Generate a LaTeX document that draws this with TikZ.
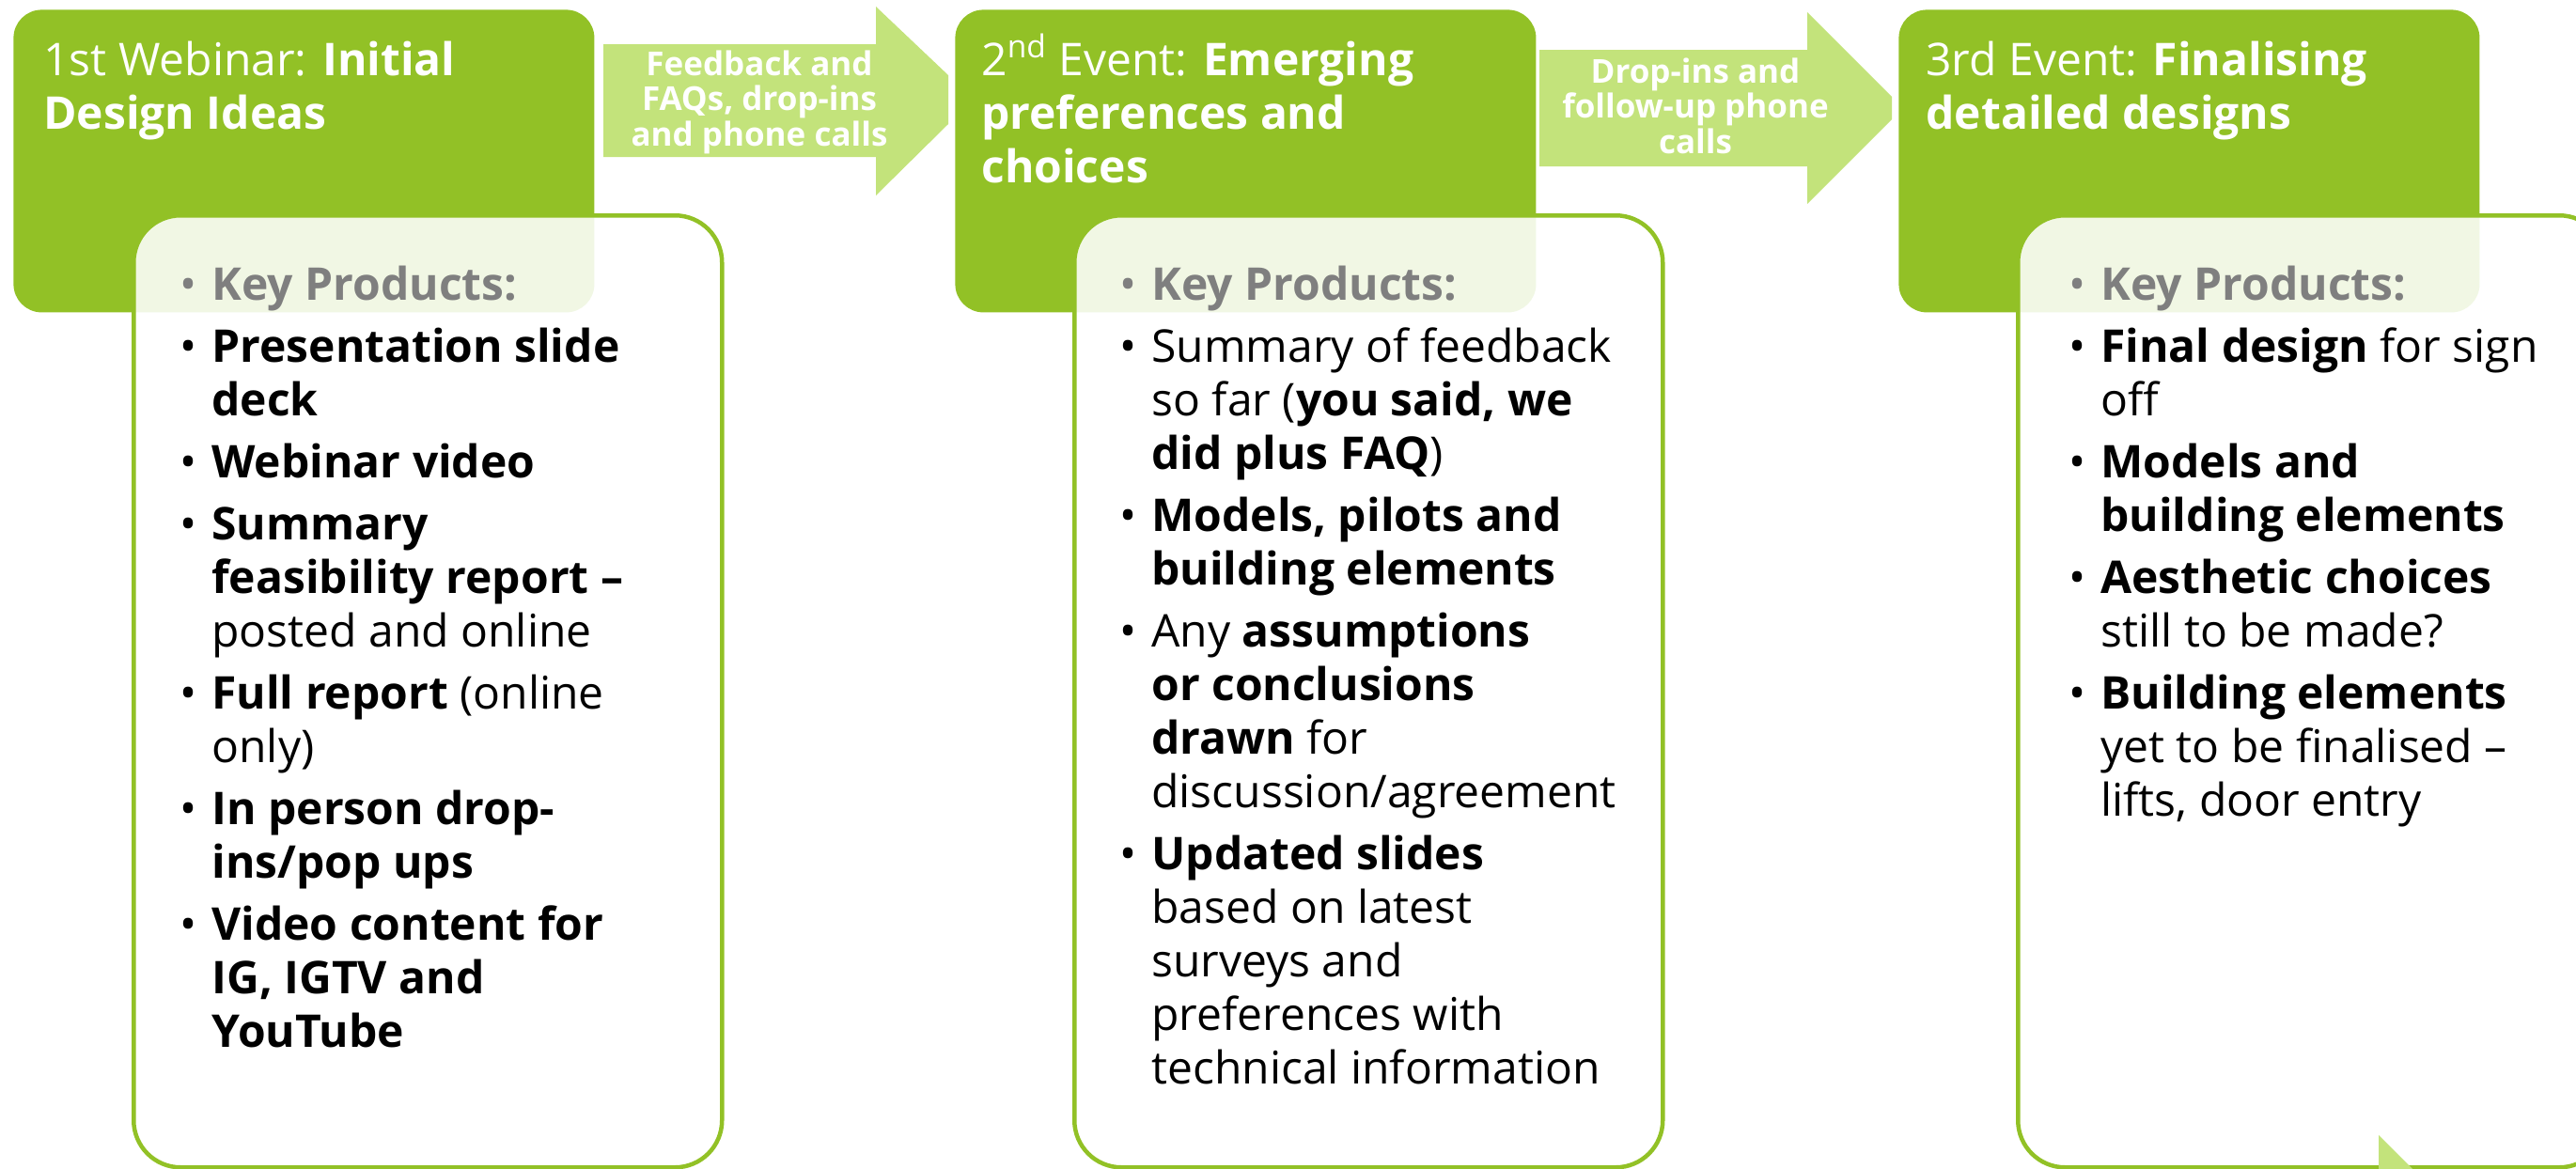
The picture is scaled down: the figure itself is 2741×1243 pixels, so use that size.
\documentclass[tikz,border=0pt]{standalone}
\usepackage{fontspec}
\setmainfont{Open Sans}
\definecolor{gdark}{RGB}{146,193,38}
\definecolor{glight}{RGB}{195,227,123}
\definecolor{kgray}{RGB}{127,127,127}

% one bullet item with a hanging indent
\newcommand\kpitem[1]{\par\noindent\hangindent=17pt\hangafter=1\makebox[17pt][l]{•}#1}
% grey heading line of each product list
\newcommand\kphead{\noindent{\color{kgray}\makebox[17pt][l]{•}\textbf{Key Products:}}}
% text blocks: the first baseline is the node's base
\newenvironment{kplist}{\begin{minipage}[t]{330pt}\fontsize{24pt}{28.5pt}\selectfont\setlength\parskip{4.5pt}}{\end{minipage}}
\newenvironment{ttl}{\begin{minipage}[t]{330pt}\fontsize{24pt}{28.5pt}\selectfont}{\end{minipage}}
\newenvironment{arrowtxt}{\begin{minipage}[t]{160pt}\centering\fontsize{17.5pt}{18.75pt}\selectfont\bfseries}{\end{minipage}}

\begin{document}
\begin{tikzpicture}[x=0.5pt,y=-0.5pt,
  greenbox/.style={fill=gdark, rounded corners=15pt, minimum width=309pt, minimum height=161pt, anchor=north west, inner sep=0pt},
  prodbox/.style={draw=gdark, line width=2.25pt, fill=white, fill opacity=0.88, rounded corners=25pt, minimum width=313pt, minimum height=506.5pt, anchor=north west, inner sep=0pt},
  txt/.style={anchor=base west, inner sep=0pt, text=black},
  ttltxt/.style={anchor=base west, inner sep=0pt, text=white},
  arrowlabel/.style={anchor=base, inner sep=0pt, text=white},
  flow/.style={fill=glight}]
\useasboundingbox (0,0) rectangle (2741,1243);
\clip (0,0) rectangle (2741,1243);

% event boxes
\node[greenbox] (g1) at (14,10) {};
\node[greenbox] (g2) at (1016,10) {};
\node[greenbox] (g3) at (2020,10) {};

% flow arrows between the events (flat tips)
\fill[flow] (642,47) -- (932,47) -- (932,7) -- (1009,80) -- (1009,132) -- (932,208) -- (932,167) -- (642,167) -- cycle;
\fill[flow] (1638,53) -- (1923,53) -- (1923,13) -- (2013,103) -- (2013,127) -- (1923,217) -- (1923,177) -- (1638,177) -- cycle;
\node[arrowlabel] (a1) at (808,80) {\begin{arrowtxt}Feedback and\\FAQs, drop-ins\\and phone calls\end{arrowtxt}};
\node[arrowlabel] (a2) at (1804,88) {\begin{arrowtxt}Drop-ins and\\follow-up phone\\calls\end{arrowtxt}};

% product boxes
\node[prodbox] (p1) at (140,227) {};
\node[prodbox] (p2) at (1141,227) {};
\node[prodbox] (p3) at (2145,227) {};

% tip of the next arrow entering at the lower edge
\fill[flow] (2531,1208) -- (2531,1250) -- (2573,1250) -- cycle;

% event titles
\node[ttltxt] (t1) at (46,80) {\begin{ttl}1st Webinar: \textbf{Initial\\Design Ideas}\end{ttl}};
\node[ttltxt] (t2) at (1044,80) {\begin{ttl}2\textsuperscript{nd} Event: \textbf{Emerging\\preferences and\\choices}\end{ttl}};
\node[ttltxt] (t3) at (2049,80) {\begin{ttl}3rd Event: \textbf{Finalising\\detailed designs}\end{ttl}};

% key products
\node[txt] (l1) at (191,319) {\begin{kplist}
\kphead
\kpitem{\textbf{Presentation slide\\deck}}
\kpitem{\textbf{Webinar video}}
\kpitem{\textbf{Summary\\feasibility report –}\\posted and online}
\kpitem{\textbf{Full report} (online\\only)}
\kpitem{\textbf{In person drop-\\ins/pop ups}}
\kpitem{\textbf{Video content for\\IG, IGTV and\\YouTube}}
\end{kplist}};

\node[txt] (l2) at (1191,319) {\begin{kplist}
\kphead
\kpitem{Summary of feedback\\so far (\textbf{you said, we\\did plus FAQ})}
\kpitem{\textbf{Models, pilots and\\building elements}}
\kpitem{Any \textbf{assumptions\\or conclusions\\drawn} for\\discussion/agreement}
\kpitem{\textbf{Updated slides}\\based on latest\\surveys and\\preferences with\\technical information}
\end{kplist}};

\node[txt] (l3) at (2201,319) {\begin{kplist}
\kphead
\kpitem{\textbf{Final design} for sign\\off}
\kpitem{\textbf{Models and\\building elements}}
\kpitem{\textbf{Aesthetic choices}\\still to be made?}
\kpitem{\textbf{Building elements}\\yet to be finalised –\\lifts, door entry}
\end{kplist}};
\end{tikzpicture}
\end{document}
